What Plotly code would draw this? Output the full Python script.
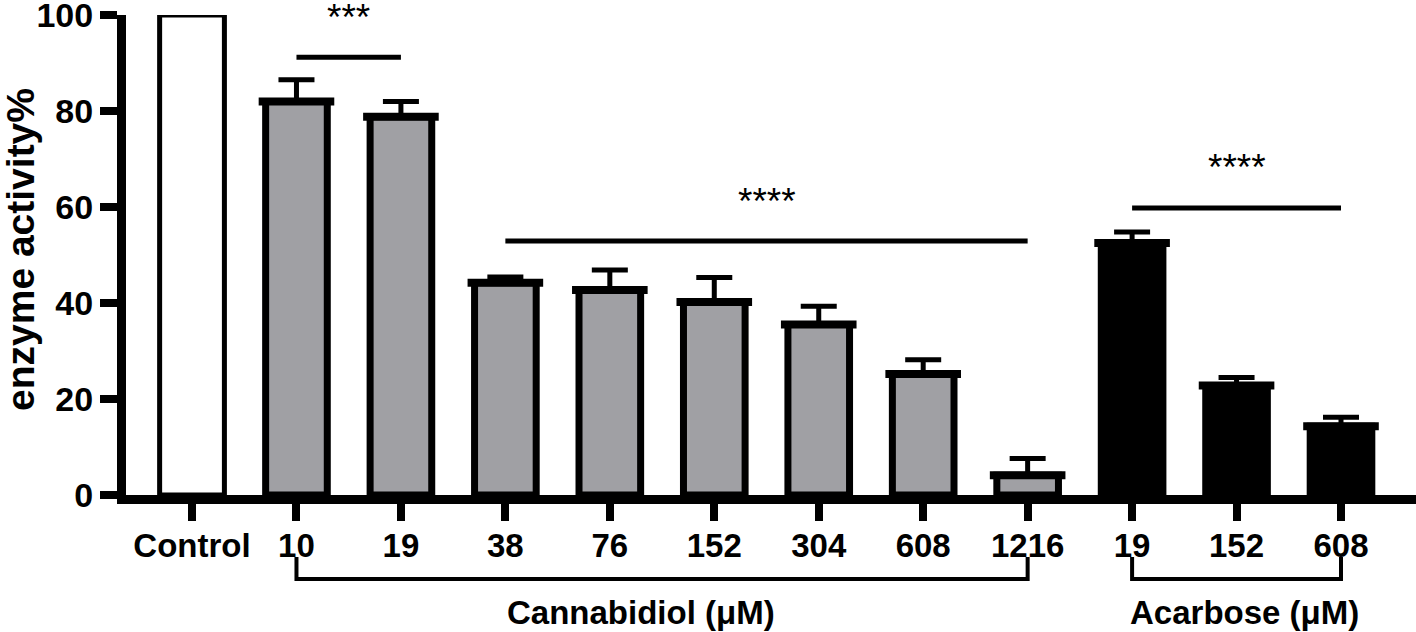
import plotly.graph_objects as go

# ---------------- data ----------------
categories = ["Control", "10", "19", "38", "76", "152", "304", "608", "1216", "19", "152", "608"]

control_value = [100.0]

cbd_doses = ["10", "19", "38", "76", "152", "304", "608", "1216"]
cbd_mean = [82.0, 78.8, 44.2, 42.7, 40.2, 35.5, 25.2, 4.1]
cbd_err = [4.5, 3.2, 1.2, 4.2, 5.1, 3.8, 3.0, 3.5]

acarbose_doses = ["19", "152", "608"]
acarbose_mean = [52.5, 22.8, 14.3]
acarbose_err = [2.3, 1.7, 1.9]

y_ticks = [0, 20, 40, 60, 80, 100]

# significance bars
sig_start = [1, 3, 9]
sig_end = [2, 8, 11]
sig_level = [91.2, 52.9, 59.8]
sig_labels = ["***", "****", "****"]

# group brackets under the axis
group_labels = ["Cannabidiol (\u03bcM)", "Acarbose (\u03bcM)"]
group_start = [1, 9]
group_end = [8, 11]
group_label_x = [4.3, 10.08]

# ---------------- positions ----------------
pos = list(range(len(categories)))
control_x = pos[0:1]
cbd_x = pos[1:1 + len(cbd_doses)]
acarbose_x = pos[1 + len(cbd_doses):]

FONT = "Liberation Sans, Arial, sans-serif"
GRAY = "#a0a0a4"

fig = go.Figure()

fig.add_trace(go.Bar(
    x=control_x, y=control_value, width=0.62,
    marker=dict(color="white", line=dict(color="black", width=5)),
    cliponaxis=False, hoverinfo="skip", name="Control"))

fig.add_trace(go.Bar(
    x=cbd_x, y=cbd_mean, width=0.59,
    marker=dict(color=GRAY, line=dict(color="black", width=7)),
    error_y=dict(type="data", array=cbd_err, arrayminus=[0] * len(cbd_err),
                 symmetric=False, thickness=5, width=18, color="black"),
    cliponaxis=False, name="Cannabidiol"))

fig.add_trace(go.Bar(
    x=acarbose_x, y=acarbose_mean, width=0.59,
    marker=dict(color="black", line=dict(color="black", width=7)),
    error_y=dict(type="data", array=acarbose_err, arrayminus=[0] * len(acarbose_err),
                 symmetric=False, thickness=5, width=18, color="black"),
    cliponaxis=False, name="Acarbose"))

# thick mean line on top of each treated bar
fig.add_trace(go.Scatter(
    x=cbd_x + acarbose_x, y=cbd_mean + acarbose_mean, mode="markers",
    marker=dict(symbol="line-ew", size=54, color="black",
                line=dict(color="black", width=8)),
    cliponaxis=False, hoverinfo="skip", showlegend=False))

shapes = []
annotations = []

for x0, x1, lvl, lab in zip(sig_start, sig_end, sig_level, sig_labels):
    shapes.append(dict(type="line", xref="x", yref="y", x0=x0, x1=x1, y0=lvl, y1=lvl,
                       line=dict(color="black", width=5)))
    annotations.append(dict(x=(x0 + x1) / 2, y=lvl, xref="x", yref="y", text=lab,
                            showarrow=False, yanchor="middle", yshift=40,
                            font=dict(family=FONT, size=37, color="black")))

PLOT_BOTTOM = 495
PLOT_H = 480
def paper_y(px):
    return (PLOT_BOTTOM - px) / PLOT_H

for x0, x1, lx, lab in zip(group_start, group_end, group_label_x, group_labels):
    yb0 = paper_y(557)
    yb1 = paper_y(579)
    shapes.append(dict(type="path", xref="x", yref="paper",
                       path=f"M {x0},{yb0} L {x0},{yb1} L {x1},{yb1} L {x1},{yb0}",
                       line=dict(color="black", width=4)))
    annotations.append(dict(x=lx, y=paper_y(612), xref="x", yref="paper", text=lab,
                            showarrow=False, xanchor="center", yanchor="middle",
                            font=dict(family=FONT, size=33, color="black", weight="bold")))

annotations.append(dict(x=(20 - 126) / 1290, y=paper_y(250), xref="paper", yref="paper",
                        text="enzyme activity%", textangle=-90, showarrow=False,
                        xanchor="center", yanchor="middle",
                        font=dict(family=FONT, size=39, color="black", weight="bold")))

fig.update_layout(
    width=1416, height=632,
    margin=dict(l=126, r=0, t=15, b=632 - PLOT_BOTTOM, autoexpand=False),
    paper_bgcolor="white", plot_bgcolor="white",
    showlegend=False, barmode="overlay",
    shapes=shapes, annotations=annotations,
    xaxis=dict(range=[-0.632, 11.718], tickmode="array", tickvals=pos, ticktext=categories,
               showline=True, linewidth=9, linecolor="black",
               ticks="outside", ticklen=17, tickwidth=8, tickcolor="black",
               tickfont=dict(family=FONT, size=33, color="black", weight="bold"),
               ticklabeloverflow="allow", ticklabelstandoff=-4, automargin=False,
               showgrid=False, zeroline=False, fixedrange=True),
    yaxis=dict(range=[0, 100], tickmode="array", tickvals=y_ticks,
               showline=True, linewidth=9, linecolor="black",
               ticks="outside", ticklen=17, tickwidth=8, tickcolor="black",
               tickfont=dict(family=FONT, size=34, color="black", weight="bold"),
               ticklabeloverflow="allow", automargin=False,
               showgrid=False, zeroline=False, fixedrange=True),
)

fig.write_html("out.html", config={"displayModeBar": False, "staticPlot": True},
               post_script="document.body.style.margin='0';")
